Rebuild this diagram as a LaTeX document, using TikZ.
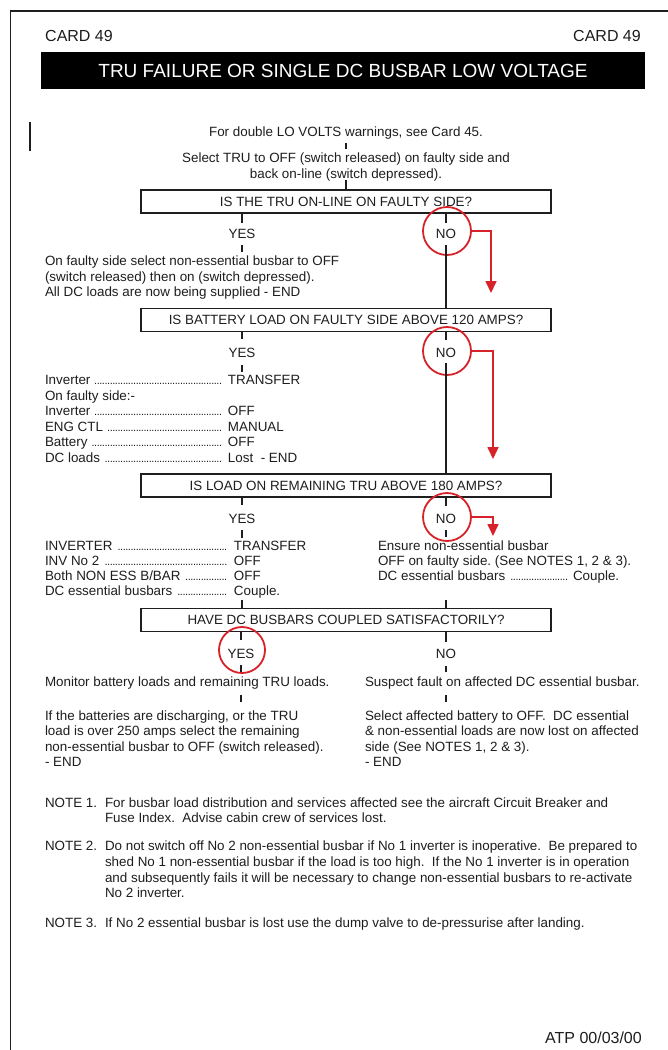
\documentclass[tikz,border=0pt]{standalone}
\usepackage{fontspec}
\setmainfont{Liberation Sans}
\usetikzlibrary{arrows.meta}
\definecolor{ink}{RGB}{30,30,30}
\definecolor{redmark}{RGB}{214,34,40}
\frenchspacing
\newcommand\dotlead{\leaders\hbox to 2.6pt{\hss{\fontsize{11}{11}\selectfont.}\hss}\hfill\hspace{5pt}}
\newcommand\ldr[3]{\makebox[#1][l]{#2\ \dotlead}#3}
\tikzset{
  txt/.style={inner sep=0pt, outer sep=0pt, text=ink, font=\fontsize{13.4}{15.5}\selectfont},
  lt/.style={txt, anchor=base west},
  ct/.style={txt, anchor=base},
  qbox/.style={draw=ink, line width=1.7pt, minimum width=410pt, minimum height=23pt, inner sep=0pt, text=ink, font=\fontsize{13.4}{15.5}\selectfont},
  tick/.style={draw=ink, line width=1.7pt},
  ring/.style={circle, draw=redmark, line width=1.8pt, minimum size=48pt, inner sep=0pt},
  redarrow/.style={draw=redmark, line width=1.7pt, -{Triangle[length=12pt,width=11pt]}},
  big/.style={inner sep=0pt, text=ink, font=\fontsize{16}{16}\selectfont}
}
\begin{document}
\begin{tikzpicture}[x=1pt,y=-1pt]
\useasboundingbox (0,0) rectangle (668,1050);
\fill[white] (0,0) rectangle (668,1050);
% scan frame
\draw[ink, line width=1.5pt] (668,11) -- (10.5,11) -- (10.5,1050);
% header
\node[big, anchor=base west] (cardl) at (45,41.7) {CARD 49};
\node[big, anchor=base east] (cardr) at (641,41.7) {CARD 49};
\node[fill=black, minimum width=604pt, minimum height=37pt, inner sep=0pt, text=white, font=\fontsize{19}{19}\selectfont] (banner) at (343,70.5) {TRU FAILURE OR SINGLE DC BUSBAR LOW VOLTAGE};
% change bar
\draw[ink, line width=2pt] (30,122) -- (30,151);
% intro
\node[ct] (fd) at (346,136.5) {For double LO VOLTS warnings, see Card 45.};
\node[ct] (s1) at (346,162) {Select TRU to OFF (switch released) on faulty side and};
\node[ct] (s2) at (346,178) {back on-line (switch depressed).};
\draw[tick] ([yshift=-6.5pt]fd.base) -- ++(0,6);
\draw[tick] ([yshift=-2pt]s2.base -| fd) -- ++(0,10);
% question 1
\node[qbox] (b1) at (346,201.5) {IS THE TRU ON-LINE ON FAULTY SIDE?};
\node[ct] (yes1) at (242,238) {YES};
\node[ct] (no1) at (446,238) {NO};
\node[ring] (c1) at (447,231) {};
\coordinate (a1) at (491,293);
\draw[redarrow] (c1.east) -| (a1);
\draw[tick] (b1.south -| yes1) -- ++(0,9);
\draw[tick] ([yshift=-7pt]yes1.base) -- ++(0,7);
\draw[tick] (b1.south -| no1) -- ++(0,9);
\node[lt] (y1a) at (45,265) {On faulty side select non-essential busbar to OFF};
\node[lt] (y1b) at (45,281) {(switch released) then on (switch depressed).};
\node[lt] (y1c) at (45,296.5) {All DC loads are now being supplied - END};
% question 2
\node[qbox] (b2) at (346,320) {IS BATTERY LOAD ON FAULTY SIDE ABOVE 120 AMPS?};
\draw[tick] ([yshift=-7pt]no1.base) -- (b2.north -| no1);
\node[ct] (yes2) at (242,357) {YES};
\node[ct] (no2) at (446,357) {NO};
\node[ring] (c2) at (447,351) {};
\coordinate (a2) at (493,459);
\draw[redarrow] (c2.east) -| (a2);
\draw[tick] (b2.south -| yes2) -- ++(0,7);
\draw[tick] ([yshift=-8pt]yes2.base) -- ++(0,7);
\draw[tick] (b2.south -| no2) -- ++(0,8);
\node[lt] (l2a) at (45,384.5) {\ldr{183pt}{Inverter}{TRANSFER}};
\node[lt] (l2b) at (45,400) {On faulty side:-};
\node[lt] (l2c) at (45,415.5) {\ldr{183pt}{Inverter}{OFF}};
\node[lt] (l2d) at (45,431) {\ldr{183pt}{ENG CTL}{MANUAL}};
\node[lt] (l2e) at (45,446.5) {\ldr{183pt}{Battery}{OFF}};
\node[lt] (l2f) at (45,462) {\ldr{183pt}{DC loads}{Lost~ - END}};
% question 3
\node[qbox] (b3) at (346,485.5) {IS LOAD ON REMAINING TRU ABOVE 180 AMPS?};
\draw[tick] ([yshift=-6pt]no2.base) -- (b3.north -| no2);
\node[ct] (yes3) at (242,523) {YES};
\node[ct] (no3) at (446,523) {NO};
\node[ring] (c3) at (447,517) {};
\coordinate (a3) at (493,536);
\draw[redarrow] (c3.east) -| (a3);
\draw[tick] (b3.south -| yes3) -- ++(0,7);
\draw[tick] ([yshift=-7pt]yes3.base) -- ++(0,8);
\draw[tick] (b3.south -| no3) -- ++(0,8);
\draw[tick] ([yshift=-7pt]no3.base) -- ++(0,7);
\node[lt] (l3a) at (45,550.3) {\ldr{189pt}{INVERTER}{TRANSFER}};
\node[lt] (l3b) at (45,565) {\ldr{189pt}{INV No 2}{OFF}};
\node[lt] (l3c) at (45,580) {\ldr{189pt}{Both NON ESS B/BAR}{OFF}};
\node[lt] (l3d) at (45,595) {\ldr{189pt}{DC essential busbars}{Couple.}};
\node[lt] (r3a) at (378,550.3) {Ensure non-essential busbar};
\node[lt] (r3b) at (378,565) {OFF on faulty side. (See NOTES 1, 2 \& 3).};
\node[lt] (r3c) at (378,580) {\ldr{195pt}{DC essential busbars}{Couple.}};
% question 4
\node[qbox] (b4) at (346,620) {HAVE DC BUSBARS COUPLED SATISFACTORILY?};
\draw[tick] (b4.north -| yes3) -- ++(0,-8);
\draw[tick] (b4.north -| no3) -- ++(0,-8);
\node[ct] (yes4) at (241,658) {YES};
\node[ct] (no4) at (446,658) {NO};
\node[ring, minimum size=46pt] (c4) at (242,650) {};
\draw[tick] (b4.south -| yes4) -- ++(0,8);
\draw[tick] ([yshift=-7pt]yes4.base) -- ++(0,7);
\draw[tick] (b4.south -| no4) -- ++(0,10);
\draw[tick] ([yshift=-8pt]no4.base) -- ++(0,6);
\node[lt] (m1) at (45,686) {Monitor battery loads and remaining TRU loads.};
\node[lt] (n1) at (365,686) {Suspect fault on affected DC essential busbar.};
\draw[tick] ([yshift=-9pt]m1.base -| yes4) -- ++(0,7);
\draw[tick] ([yshift=-9pt]n1.base -| no4) -- ++(0,7);
\node[lt] (m2) at (45,720) {If the batteries are discharging, or the TRU};
\node[lt] (m3) at (45,735.5) {load is over 250 amps select the remaining};
\node[lt] (m4) at (45,751) {non-essential busbar to OFF (switch released).};
\node[lt] (m5) at (45,766.5) {- END};
\node[lt] (n2) at (365,720) {Select affected battery to OFF.~ DC essential};
\node[lt] (n3) at (365,735.5) {\& non-essential loads are now lost on affected};
\node[lt] (n4) at (365,751) {side (See NOTES 1, 2 \& 3).};
\node[lt] (n5) at (365,766.5) {- END};
% notes
\node[lt] (note1) at (45,807) {NOTE 1.};
\node[lt] (note1a) at (105,807) {For busbar load distribution and services affected see the aircraft Circuit Breaker and};
\node[lt] (note1b) at (105,822) {Fuse Index.~ Advise cabin crew of services lost.};
\node[lt] (note2) at (45,850.5) {NOTE 2.};
\node[lt] (note2a) at (105,850.5) {Do not switch off No 2 non-essential busbar if No 1 inverter is inoperative.~ Be prepared to};
\node[lt] (note2b) at (105,866.5) {shed No 1 non-essential busbar if the load is too high.~ If the No 1 inverter is in operation};
\node[lt] (note2c) at (105,882) {and subsequently fails it will be necessary to change non-essential busbars to re-activate};
\node[lt] (note2d) at (105,897.5) {No 2 inverter.};
\node[lt] (note3) at (45,927) {NOTE 3.};
\node[lt] (note3a) at (105,927) {If No 2 essential busbar is lost use the dump valve to de-pressurise after landing.};
% footer
\node[big, anchor=base east] (atp) at (642,1043.7) {ATP 00/03/00};
\end{tikzpicture}
\end{document}
